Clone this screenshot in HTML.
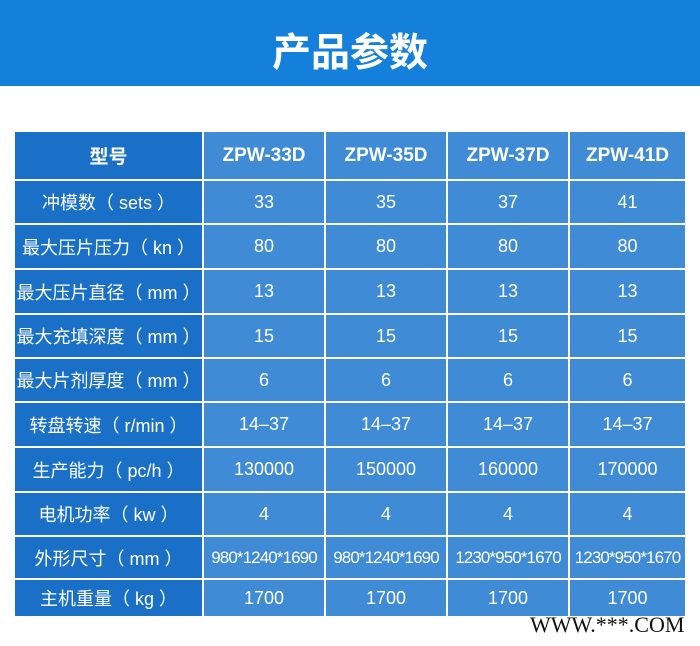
<!DOCTYPE html>
<html><head><meta charset="utf-8"><style>
body{margin:0;width:700px;height:646px;background:#fff;position:relative;overflow:hidden;font-family:"Liberation Sans","Noto Sans CJK SC",sans-serif}
.top{position:absolute;left:0;top:0;width:700px;height:86px;background:#1480dc}
.title{position:absolute;left:0;top:31px;width:700px;text-align:center;color:#fff;font-size:39px;font-weight:bold;line-height:46px}
.c{position:absolute;display:flex;align-items:center;justify-content:center;color:#fff;box-sizing:border-box;white-space:nowrap}
.f{background:#1a70c7;font-size:18px}
.d{background:#3f8bd5;font-size:18px}
.h{font-weight:bold;font-size:19px}
.sm{font-size:17px;letter-spacing:-0.9px}
.wm{position:absolute;left:530px;top:612px;font-family:"Liberation Serif",serif;font-size:22px;color:#111}
</style></head><body>
<div class="top"></div><div class="title">产品参数</div>
<div id="t"></div>
<div class="wm">WWW.***.COM</div>
<script>
var cols=[15,203,325,447,569,685];
var rows=[132,180,224,269,314,358,402,447,492,536,579,616];
var data=[
["型号","ZPW-33D","ZPW-35D","ZPW-37D","ZPW-41D"],
["冲模数（ sets ）","33","35","37","41"],
["最大压片压力（ kn ）","80","80","80","80"],
["最大压片直径（ mm ）","13","13","13","13"],
["最大充填深度（ mm ）","15","15","15","15"],
["最大片剂厚度（ mm ）","6","6","6","6"],
["转盘转速（ r/min ）","14–37","14–37","14–37","14–37"],
["生产能力（ pc/h ）","130000","150000","160000","170000"],
["电机功率（ kw ）","4","4","4","4"],
["外形尺寸（ mm ）","980*1240*1690","980*1240*1690","1230*950*1670","1230*950*1670"],
["主机重量（ kg ）","1700","1700","1700","1700"]];
var h="";
for(var r=0;r<11;r++)for(var c=0;c<5;c++){
var x=cols[c]+(c?1:0),y=rows[r]+(r?1:0),w=cols[c+1]-cols[c]-(c?1:0)-(c<4?1:0),hh=rows[r+1]-rows[r]-(r?1:0)-(r<10?1:0);
var cls="c "+(c==0?"f":"d")+(r==0?" h":"")+(r==9&&c>0?" sm":"");
h+='<div class="'+cls+'" style="left:'+x+'px;top:'+y+'px;width:'+w+'px;height:'+hh+'px">'+data[r][c]+'</div>';}
document.getElementById("t").innerHTML=h;
</script>
</body></html>
